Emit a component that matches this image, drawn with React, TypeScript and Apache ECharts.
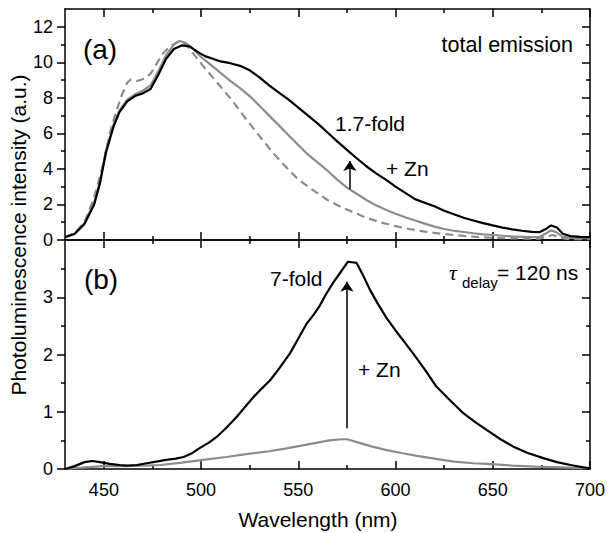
import React, { useEffect, useRef } from 'react';
import * as echarts from 'echarts';

const FONT = '"Liberation Sans", Arial, Helvetica, sans-serif';

// tick values
const xMajorTicks = [450, 500, 550, 600, 650, 700];
const xMinorTicks = [475, 525, 575, 625, 675];
const yTopMajorTicks = [0, 2, 4, 6, 8, 10, 12];
const yTopMinorTicks = [1, 3, 5, 7, 9, 11];
const yBotMajorTicks = [0, 1, 2, 3];
const yBotMinorTicks = [0.5, 1.5, 2.5, 3.5];

// (a) total emission, + Zn (black)
const totalZnWl = [430, 435, 440, 445, 448, 451, 455, 458, 462, 466, 470, 474, 478, 482, 486, 490, 494, 498, 502, 506, 510, 515, 520, 525, 530, 535, 540, 545, 550, 555, 560, 565, 570, 575, 580, 585, 590, 595, 600, 605, 610, 615, 620, 625, 630, 635, 640, 645, 650, 655, 660, 665, 670, 674, 677, 680, 683, 686, 690, 695, 700];
const totalZnVal = [0.15, 0.35, 0.9, 2.0, 3.2, 4.9, 6.4, 7.2, 7.8, 8.1, 8.25, 8.5, 9.3, 10.2, 10.75, 10.95, 10.9, 10.6, 10.35, 10.2, 10.05, 9.95, 9.8, 9.55, 9.15, 8.7, 8.3, 7.9, 7.45, 7.0, 6.55, 6.05, 5.55, 5.07, 4.6, 4.15, 3.75, 3.4, 3.0, 2.65, 2.3, 2.1, 1.9, 1.65, 1.45, 1.25, 1.1, 0.95, 0.82, 0.7, 0.6, 0.52, 0.46, 0.44, 0.6, 0.82, 0.7, 0.35, 0.22, 0.18, 0.16];

// (a) total emission, without Zn (grey solid)
const totalWl = [430, 435, 440, 445, 448, 451, 455, 458, 462, 466, 470, 474, 478, 482, 486, 489, 492, 496, 500, 505, 510, 515, 520, 525, 530, 535, 540, 545, 550, 555, 560, 565, 570, 575, 580, 585, 590, 595, 600, 605, 610, 615, 620, 625, 630, 635, 640, 645, 650, 655, 660, 665, 670, 674, 677, 680, 683, 686, 690, 695, 700];
const totalVal = [0.15, 0.35, 0.95, 2.1, 3.3, 5.0, 6.5, 7.3, 7.9, 8.2, 8.4, 8.7, 9.5, 10.4, 11.0, 11.2, 11.1, 10.75, 10.3, 9.85, 9.4, 8.95, 8.55, 8.1, 7.55, 7.0, 6.45, 5.9, 5.35, 4.8, 4.35, 3.9, 3.4, 2.95, 2.6, 2.25, 1.95, 1.7, 1.48, 1.28, 1.1, 0.92, 0.75, 0.62, 0.52, 0.45, 0.38, 0.32, 0.28, 0.24, 0.2, 0.18, 0.16, 0.17, 0.35, 0.54, 0.42, 0.18, 0.12, 0.1, 0.1];

// (a) reference spectrum (grey dashed)
const refWl = [430, 435, 440, 445, 448, 450, 453, 456, 459, 462, 464, 467, 470, 474, 477, 480, 484, 488, 490, 493, 497, 501, 506, 511, 516, 520, 525, 530, 537, 545, 550, 557, 565, 572, 578, 585, 592, 600, 607, 615, 620, 628, 636, 645, 655, 665, 674, 678, 681, 684, 688, 695, 700];
const refVal = [0.15, 0.4, 1.0, 2.4, 3.6, 4.4, 6.0, 7.1, 8.1, 8.85, 9.05, 8.95, 9.05, 9.35, 9.9, 10.45, 10.9, 11.15, 11.15, 10.9, 10.35, 9.8, 9.15, 8.5, 7.85, 7.25, 6.55, 5.85, 4.9, 3.95, 3.4, 2.85, 2.25, 1.85, 1.58, 1.25, 1.0, 0.78, 0.62, 0.47, 0.4, 0.3, 0.22, 0.15, 0.1, 0.08, 0.08, 0.2, 0.28, 0.15, 0.06, 0.05, 0.05];

// (b) delayed emission, + Zn (black)
const delayZnWl = [430, 435, 440, 444, 448, 453, 458, 462, 467, 472, 477, 482, 487, 491, 495, 499, 504, 508, 513, 518, 523, 527, 531, 535.5, 540, 545.7, 550, 554.3, 558, 561, 564, 568, 572, 575.5, 580, 583, 587, 591, 595.5, 600, 605, 609, 615, 621, 628, 635, 641, 647, 654, 660.6, 668, 676, 683, 690, 695, 700];
const delayZnVal = [0.0, 0.05, 0.12, 0.14, 0.12, 0.09, 0.07, 0.06, 0.07, 0.1, 0.13, 0.16, 0.18, 0.21, 0.27, 0.36, 0.46, 0.56, 0.72, 0.9, 1.1, 1.26, 1.4, 1.55, 1.75, 2.02, 2.28, 2.54, 2.7, 2.85, 3.04, 3.26, 3.45, 3.62, 3.6, 3.4, 3.12, 2.88, 2.63, 2.42, 2.2, 2.02, 1.74, 1.44, 1.2, 0.97, 0.82, 0.68, 0.52, 0.39, 0.28, 0.19, 0.12, 0.07, 0.04, 0.01];

// (b) delayed emission, without Zn (grey)
const delayWl = [430, 440, 450, 460, 470, 479, 490, 501, 513, 525, 535, 544, 555, 566, 572, 575, 581, 588, 595.5, 603, 611, 620, 630, 640, 647, 660, 672, 685, 700];
const delayVal = [0.0, 0.03, 0.05, 0.05, 0.06, 0.07, 0.11, 0.16, 0.21, 0.27, 0.31, 0.36, 0.43, 0.5, 0.52, 0.52, 0.46, 0.39, 0.33, 0.28, 0.23, 0.18, 0.13, 0.1, 0.09, 0.06, 0.04, 0.03, 0.01];

// arrows: [wavelength, from, to]
const arrowA = [576.5, 2.85, 4.45];
const arrowB = [575, 0.71, 3.27];

const zip = (xs: number[], ys: number[]) => xs.map((x, i) => [x, ys[i]]);

const AXIS_COLOR = '#000';
const GREY = '#8c8c8c';

function xAxis(grid: number, position: 'top' | 'bottom', ticks: number[], len: number, line: boolean, labels: number[] | null) {
  return {
    type: 'value',
    gridIndex: grid,
    position,
    min: 430,
    max: 700,
    splitLine: { show: false },
    axisLine: { show: line, onZero: false, lineStyle: { color: AXIS_COLOR, width: 1.5 } },
    axisTick: { show: true, inside: true, length: len, customValues: ticks, lineStyle: { color: AXIS_COLOR, width: 1.5 } },
    axisLabel: labels
      ? { show: true, customValues: labels, color: '#000', fontSize: 18, fontFamily: FONT, margin: 12 }
      : { show: false },
  };
}

function yAxis(grid: number, position: 'left' | 'right', max: number, ticks: number[], len: number, inside: boolean, line: boolean, labels: number[] | null) {
  return {
    type: 'value',
    gridIndex: grid,
    position,
    min: 0,
    max,
    splitLine: { show: false },
    axisLine: { show: line, onZero: false, lineStyle: { color: AXIS_COLOR, width: 1.5 } },
    axisTick: { show: true, inside, length: len, customValues: ticks, lineStyle: { color: AXIS_COLOR, width: 1.5 } },
    axisLabel: labels
      ? { show: true, customValues: labels, color: '#000', fontSize: 18, fontFamily: FONT, margin: 12 }
      : { show: false },
  };
}

function arrowMarkLine(a: number[]) {
  return {
    silent: true,
    symbol: ['none', 'arrow'],
    symbolSize: 10,
    label: { show: false },
    emphasis: { disabled: true },
    lineStyle: { color: '#000', width: 1.5, type: 'solid' },
    itemStyle: { color: '#000' },
    data: [[{ coord: [a[0], a[1]] }, { coord: [a[0], a[2]] }]],
  };
}

function txt(text: string, x: number, y: number, size: number, align: string = 'left', extra: any = {}) {
  return {
    type: 'text',
    x,
    y,
    silent: true,
    ...extra,
    style: { text, fontSize: size, fontFamily: FONT, fill: '#000', align, verticalAlign: 'middle', ...(extra.style || {}) },
  };
}

export default function App() {
  const ref = useRef<HTMLDivElement>(null);
  useEffect(() => {
    if (!ref.current) return;
    const chart = echarts.init(ref.current, undefined, { renderer: 'svg' });
    const option: any = {
      animation: false,
      backgroundColor: '#fff',
      grid: [
        { left: 65, right: 24, top: 9, height: 231 },
        { left: 65, right: 24, top: 240, height: 229 },
      ],
      xAxis: [
        xAxis(0, 'bottom', xMajorTicks, 8, true, null),
        xAxis(0, 'top', xMajorTicks, 8, true, null),
        xAxis(0, 'bottom', xMinorTicks, 4, false, null),
        xAxis(0, 'top', xMinorTicks, 4, false, null),
        xAxis(1, 'bottom', xMajorTicks, 8, true, xMajorTicks),
        xAxis(1, 'top', xMajorTicks, 8, true, null),
        xAxis(1, 'bottom', xMinorTicks, 4, false, null),
        xAxis(1, 'top', xMinorTicks, 4, false, null),
      ],
      yAxis: [
        yAxis(0, 'left', 13, yTopMajorTicks, 8, false, true, yTopMajorTicks),
        yAxis(0, 'right', 13, yTopMajorTicks, 8, true, true, null),
        yAxis(0, 'left', 13, yTopMinorTicks, 4, false, false, null),
        yAxis(0, 'right', 13, yTopMinorTicks, 4, true, false, null),
        yAxis(1, 'left', 4, yBotMajorTicks, 8, false, true, yBotMajorTicks),
        yAxis(1, 'right', 4, yBotMajorTicks, 8, true, true, null),
        yAxis(1, 'left', 4, yBotMinorTicks, 4, false, false, null),
        yAxis(1, 'right', 4, yBotMinorTicks, 4, true, false, null),
      ],
      series: [
        {
          name: 'reference', type: 'line', xAxisIndex: 0, yAxisIndex: 0, showSymbol: false, silent: true,
          lineStyle: { color: GREY, width: 2.2, type: [8, 5] }, data: zip(refWl, refVal), z: 2,
        },
        {
          name: 'total', type: 'line', xAxisIndex: 0, yAxisIndex: 0, showSymbol: false, silent: true,
          lineStyle: { color: GREY, width: 2.2 }, data: zip(totalWl, totalVal), z: 3,
        },
        {
          name: 'total + Zn', type: 'line', xAxisIndex: 0, yAxisIndex: 0, showSymbol: false, silent: true,
          itemStyle: { color: '#000' },
          lineStyle: { color: '#000', width: 2.2 }, data: zip(totalZnWl, totalZnVal), z: 4,
          markLine: arrowMarkLine(arrowA),
        },
        {
          name: 'delayed', type: 'line', xAxisIndex: 4, yAxisIndex: 4, showSymbol: false, silent: true,
          lineStyle: { color: GREY, width: 2.2 }, data: zip(delayWl, delayVal), z: 3,
        },
        {
          name: 'delayed + Zn', type: 'line', xAxisIndex: 4, yAxisIndex: 4, showSymbol: false, silent: true,
          itemStyle: { color: '#000' },
          lineStyle: { color: '#000', width: 2.2 }, data: zip(delayZnWl, delayZnVal), z: 4,
          markLine: arrowMarkLine(arrowB),
        },
      ],
      graphic: [
        txt('(a)', 100, 49, 28, 'center'),
        txt('total emission', 573, 45, 21.5, 'right'),
        txt('1.7-fold', 335, 123, 21),
        txt('+ Zn', 386, 168, 21),
        txt('(b)', 101, 279, 28, 'center'),
        txt('7-fold', 270, 278, 21),
        txt('+ Zn', 358, 369, 21),
        { type: 'text', x: 449, y: 272, silent: true, style: { text: 'τ', fontSize: 22, fontFamily: '"Liberation Serif", "DejaVu Serif", serif', fontStyle: 'italic', fill: '#000', align: 'left', verticalAlign: 'middle' } },
        txt('delay', 462, 282, 15),
        txt('= 120 ns', 497, 272, 21),
        txt('Wavelength (nm)', 318, 519, 21, 'center'),
        txt('Photoluminescence intensity (a.u.)', 18, 235, 21, 'center', { rotation: Math.PI / 2 }),
      ],
    };
    chart.setOption(option);
    return () => chart.dispose();
  }, []);
  return <div ref={ref} style={{ position: 'fixed', left: 0, top: 0, width: 614, height: 533, background: '#fff' }} />;
}
